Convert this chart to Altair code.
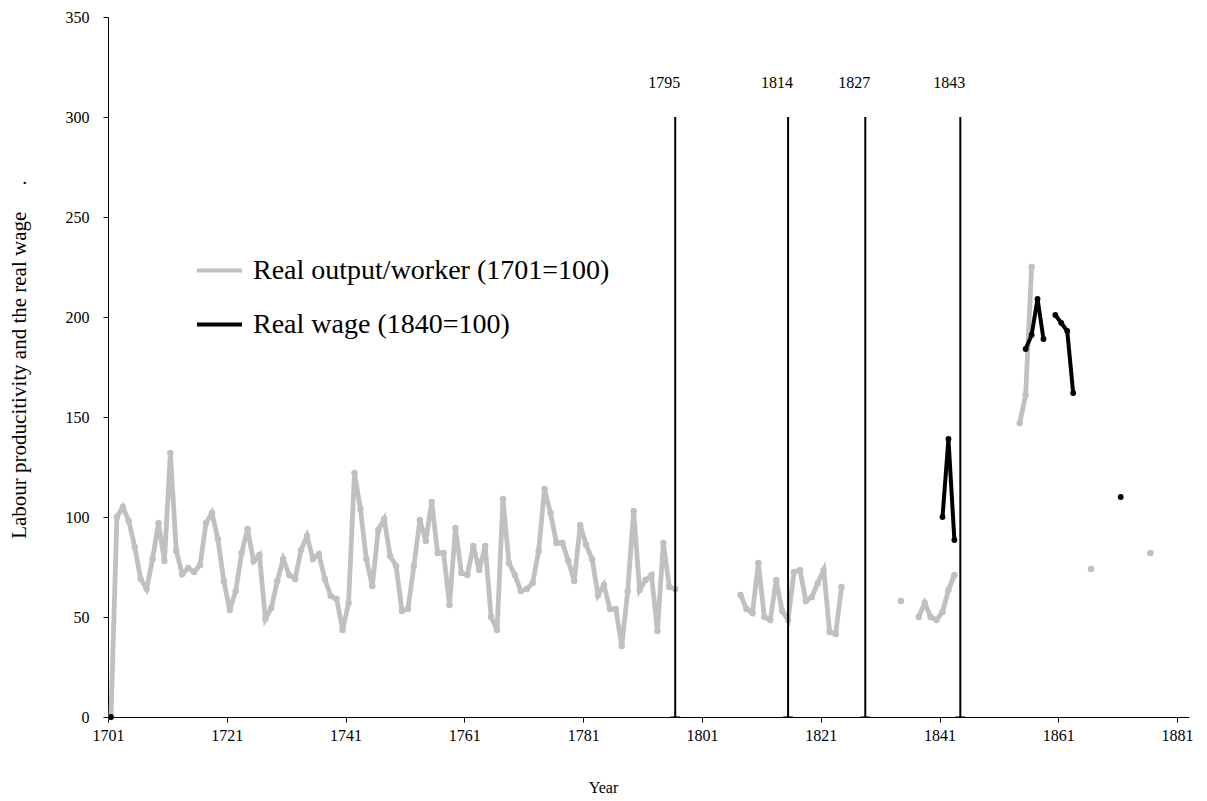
import altair as alt
import pandas as pd

# ---------------- data ----------------
OUT_NAME = "Real output/worker (1701=100)"
WAGE_NAME = "Real wage (1840=100)"

output_years = (list(range(1700, 1796)) + list(range(1806, 1824)) + [1833]
                + list(range(1836, 1843)) + [1853, 1854, 1855] + [1865, 1875])
output_values = [
    0, 100, 105, 98, 85, 69, 64, 79, 97, 78,            # 1700-1709
    132, 83, 71.5, 74.5, 72.5, 76, 97, 102, 89, 68,     # 1710-1719
    53.5, 63, 82, 94, 78, 81, 49, 54.5, 68, 79,         # 1720-1729
    71, 69, 83.5, 90.5, 79, 81.5, 69, 60.5, 59, 43.5,   # 1730-1739
    57, 122, 104, 79, 65.5, 93.5, 99, 80.5, 75.5, 53,   # 1740-1749
    54, 75.5, 98.5, 88, 107.5, 82, 82, 56, 94.5, 72,    # 1750-1759
    71, 85.5, 73.5, 85.5, 50, 43.5, 109, 77, 71, 63,    # 1760-1769
    64, 67, 83, 114, 102, 87, 87, 78, 68, 96,           # 1770-1779
    86, 79, 61, 66, 54, 54, 35.5, 63, 103, 63.5,        # 1780-1789
    68.5, 71, 43, 87, 65, 64,                           # 1790-1795
    61, 54, 52, 77, 50, 48.5, 68.5, 53, 48.5, 72.5,     # 1806-1815
    73.5, 58, 60, 67, 73.5, 42.5, 41.5, 65,             # 1816-1823
    58,                                                 # 1833
    50, 57, 50, 48.5, 52.5, 63.5, 71,                   # 1836-1842
    147, 161, 225,                                      # 1853-1855
    74, 82,                                             # 1865, 1875
]

wage_years = [1700, 1840, 1841, 1842, 1854, 1855, 1856, 1857,
              1859, 1860, 1861, 1862, 1870]
wage_values = [0, 100, 139, 88.5, 184, 191, 209, 189,
               201, 197, 193, 162, 110]

event_years = [1795, 1814, 1827, 1843]
event_labels = ["1795", "1814", "1827", "1843"]

x_tick_values = [1699.5 + 20 * k for k in range(10)]
y_tick_values = [0, 50, 100, 150, 200, 250, 300, 350]


def frame(years, values, name):
    rows, seg, prev = [], 0, None
    for yr, v in zip(years, values):
        if prev is not None and yr - prev > 1:
            seg += 1
        rows.append({"year": yr, "value": v, "series": name, "seg": f"{name}-{seg}"})
        prev = yr
    return pd.DataFrame(rows)


out_df = frame(output_years, output_values, OUT_NAME)
wage_df = frame(wage_years, wage_values, WAGE_NAME)
event_df = pd.DataFrame({"year": event_years, "label": event_labels})

FONT = "Liberation Serif"
NBSP = "\u00a0"

x_enc = alt.X("year:Q",
              scale=alt.Scale(domain=[1699.5, 1881.5], nice=False, zero=False),
              axis=alt.Axis(values=x_tick_values,
                            labelExpr="format(datum.value + 1.5, 'd')",
                            labelFlush=False,
                            title="Year", grid=False, tickSize=5,
                            labelPadding=5, titleX=495, titleY=70,
                            titleBaseline="middle",
                            domainColor="#000000", tickColor="#000000"))
y_enc = alt.Y("value:Q",
              scale=alt.Scale(domain=[0, 350], nice=False),
              axis=alt.Axis(values=y_tick_values, grid=False, tickSize=5,
                            labelPadding=14,
                            title="Labour producitivity and the real wage" + NBSP * 5 + ".",
                            titleX=-79, titleY=342, titleAngle=-90,
                            titleFontSize=21,
                            titleAlign="center", titleBaseline="bottom",
                            domainColor="#000000", tickColor="#000000"))

color_enc = alt.Color("series:N",
                      scale=alt.Scale(domain=[OUT_NAME, WAGE_NAME],
                                      range=["#C0C0C0", "#000000"]),
                      legend=alt.Legend(title=None, orient="none",
                                        legendX=87, legendY=229,
                                        symbolType="stroke", symbolSize=2025,
                                        symbolStrokeWidth=4, labelFontSize=28,
                                        labelFont=FONT, labelColor="#000000",
                                        labelLimit=700,
                                        labelOffset=9, rowPadding=15,
                                        padding=0))

gray_line = alt.Chart(out_df).mark_line(strokeWidth=4.8).encode(
    x=x_enc, y=y_enc, color=color_enc, detail="seg:N")
gray_pts = alt.Chart(out_df).mark_circle(size=42, opacity=1).encode(
    x=x_enc, y=y_enc, color=color_enc)

rules = alt.Chart(event_df).mark_rule(color="#000000", strokeWidth=2).encode(
    x=alt.X("year:Q"), y=alt.datum(0), y2=alt.datum(300))
rule_feet = alt.Chart(event_df).mark_tick(
    orient="horizontal", color="#000000", size=10, thickness=1.5).encode(
    x=alt.X("year:Q"), y=alt.datum(0))
rule_text = alt.Chart(event_df).mark_text(
    font=FONT, fontSize=16, dx=-11, baseline="middle", color="#000000").encode(
    x=alt.X("year:Q"), y=alt.datum(317), text="label:N")

wage_line = alt.Chart(wage_df).mark_line(strokeWidth=4).encode(
    x=x_enc, y=y_enc, color=color_enc, detail="seg:N")
wage_pts = alt.Chart(wage_df).mark_circle(size=34, opacity=1).encode(
    x=x_enc, y=y_enc, color=color_enc)

chart = alt.layer(
    gray_line, gray_pts, rules, rule_feet, rule_text, wage_line, wage_pts
).properties(
    width=1081, height=700,
    background="#ffffff",
    autosize=alt.AutoSizeParams(type="none"),
    padding={"left": 108, "top": 17, "right": 18, "bottom": 84},
).configure_view(stroke=None).configure_axis(
    labelFont=FONT, labelFontSize=16, labelColor="#000000",
    titleFont=FONT, titleFontSize=16, titleColor="#000000",
    titleFontWeight="normal", domainWidth=1,
)

chart.save("out.html", embed_options={"renderer": "svg", "actions": False})
